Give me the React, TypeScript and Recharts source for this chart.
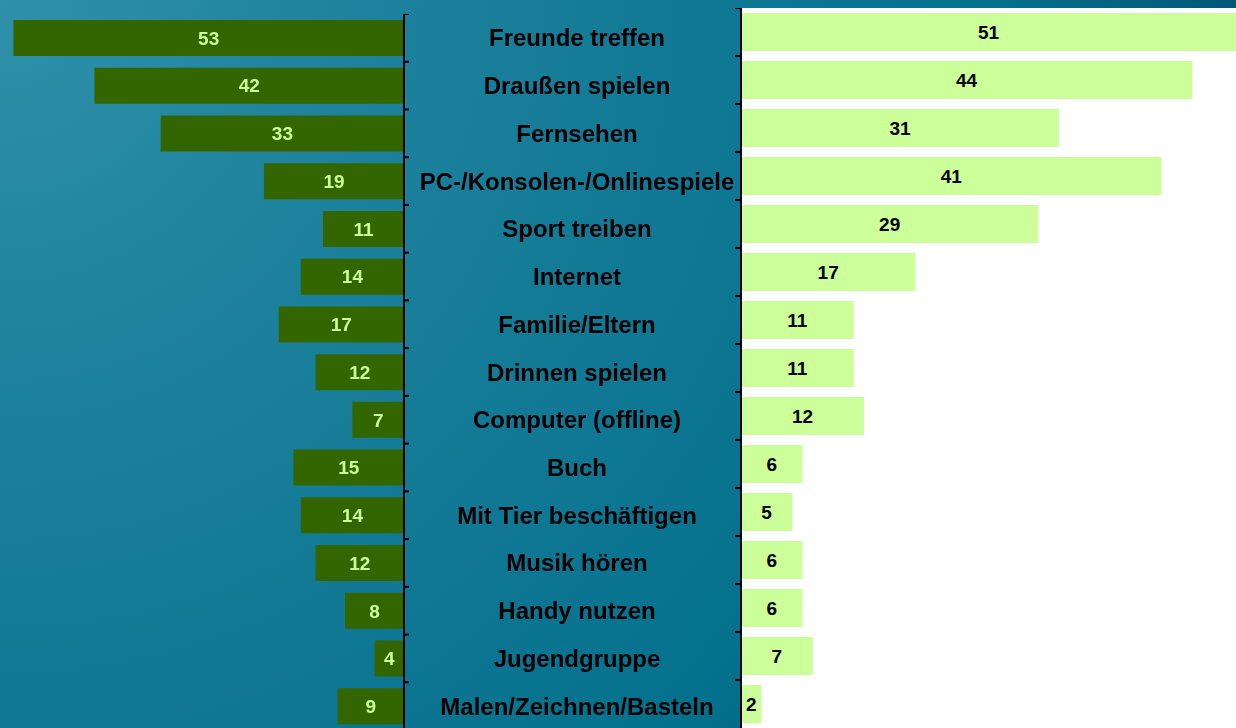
import React from "react";
import { BarChart, Bar, XAxis, YAxis, LabelList, CartesianGrid } from "recharts";

const categories = [
  "Freunde treffen",
  "Draußen spielen",
  "Fernsehen",
  "PC-/Konsolen-/Onlinespiele",
  "Sport treiben",
  "Internet",
  "Familie/Eltern",
  "Drinnen spielen",
  "Computer (offline)",
  "Buch",
  "Mit Tier beschäftigen",
  "Musik hören",
  "Handy nutzen",
  "Jugendgruppe",
  "Malen/Zeichnen/Basteln",
];
const leftValues = [53, 42, 33, 19, 11, 14, 17, 12, 7, 15, 14, 12, 8, 4, 9];
const rightValues = [51, 44, 31, 41, 29, 17, 11, 11, 12, 6, 5, 6, 6, 7, 2];

const leftData = categories.map((name, i) => ({ name, value: leftValues[i] }));
const rightData = categories.map((name, i) => ({ name, value: rightValues[i] }));

const VIEW_W = 1236;
const VIEW_H = 728;
const FONT = "'Liberation Sans', Arial, Helvetica, sans-serif";

const L_CHART_H = 716;
const R_CHART_H = 720;
const L_BAND = L_CHART_H / categories.length;
const R_BAND = R_CHART_H / categories.length;

// left chart
const L_LEFT = 6;
const L_TOP = 14;
const L_PLOT_W = 398;
const L_AXIS_W = 335;

// right chart
const R_AXIS_W = 10;
const R_LEFT = 731;
const R_TOP = 8;
const R_PLOT_W = 564;

const LeftTick = (props: any) => {
  const { x, y, payload } = props;
  const axisX = x - 5;
  const top = y - L_BAND / 2;
  return (
    <g>
      <line x1={axisX} x2={axisX + 5} y1={top} y2={top} stroke="#000" strokeWidth={2} />
      <text
        x={axisX + 173}
        y={y}
        textAnchor="middle"
        dominantBaseline="central"
        fill="#000"
        fontFamily={FONT}
        fontWeight="bold"
        fontSize={24}
      >
        {payload.value}
      </text>
    </g>
  );
};

const RightTick = (props: any) => {
  const { x, y } = props;
  const axisX = x + 5;
  const top = y - R_BAND / 2;
  return <line x1={axisX - 6} x2={axisX} y1={top} y2={top} stroke="#000" strokeWidth={2} />;
};

const RightLabel = (props: any) => {
  const { x, y, width, height, value } = props;
  const visRight = Math.min(x + width, VIEW_W - R_LEFT);
  const cx = (x + visRight) / 2;
  return (
    <text
      x={cx}
      y={y + height / 2}
      textAnchor="middle"
      dominantBaseline="central"
      fill="#000"
      fontFamily={FONT}
      fontWeight="bold"
      fontSize={19}
    >
      {value}
    </text>
  );
};

export default function App() {
  return (
    <div
      style={{
        position: "fixed",
        left: 0,
        top: 0,
        width: VIEW_W,
        height: VIEW_H,
        overflow: "hidden",
        background:
          "radial-gradient(circle at 0px 0px, #3090aa 0px, #1c819c 400px, #107894 720px, #03718d 990px, #005775 1240px, #004c6a 1440px)",
      }}
    >
      <div style={{ position: "absolute", left: R_LEFT, top: R_TOP }}>
        <BarChart
          layout="vertical"
          width={R_AXIS_W + R_PLOT_W}
          height={R_CHART_H}
          data={rightData}
          margin={{ top: 0, right: 0, bottom: 0, left: 0 }}
        >
          <CartesianGrid horizontal={false} vertical={false} fill="#ffffff" />
          <XAxis type="number" hide domain={[0, 55]} />
          <YAxis
            type="category"
            dataKey="name"
            orientation="left"
            width={R_AXIS_W}
            axisLine={{ stroke: "#000", strokeWidth: 2 }}
            tickLine={false}
            tickSize={5}
            tickMargin={0}
            tick={<RightTick />}
            interval={0}
          />
          <Bar dataKey="value" fill="#ccff99" barSize={38} isAnimationActive={false}>
            <LabelList dataKey="value" content={<RightLabel />} />
          </Bar>
        </BarChart>
      </div>
      <div style={{ position: "absolute", left: L_LEFT, top: L_TOP }}>
        <BarChart
          layout="vertical"
          width={L_PLOT_W + L_AXIS_W}
          height={L_CHART_H}
          data={leftData}
          margin={{ top: 0, right: 0, bottom: 0, left: 0 }}
        >
          <XAxis type="number" hide reversed domain={[0, 54]} />
          <YAxis
            type="category"
            dataKey="name"
            orientation="right"
            width={L_AXIS_W}
            axisLine={{ stroke: "#000", strokeWidth: 2 }}
            tickLine={false}
            tickSize={5}
            tickMargin={0}
            tick={<LeftTick />}
            interval={0}
          />
          <Bar dataKey="value" fill="#336600" barSize={36} isAnimationActive={false}>
            <LabelList
              dataKey="value"
              position="center"
              fill="#ccff99"
              fontFamily={FONT}
              fontWeight="bold"
              fontSize={19}
            />
          </Bar>
        </BarChart>
      </div>
    </div>
  );
}
